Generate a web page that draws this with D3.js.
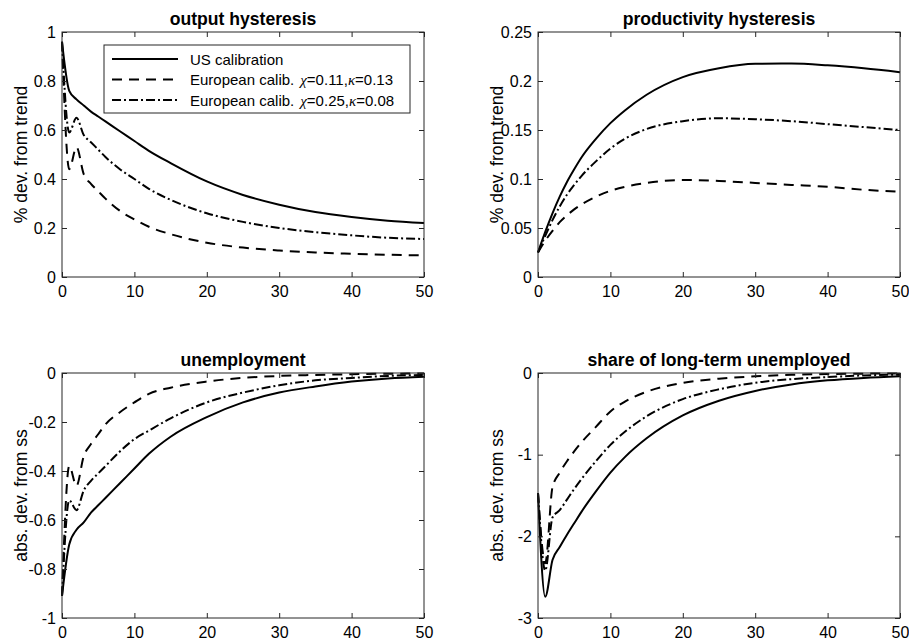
<!DOCTYPE html>
<html><head><meta charset="utf-8">
<script src="https://cdn.jsdelivr.net/npm/d3@7"></script>
<style>
html,body{margin:0;padding:0;background:#fff;}
svg{display:block;font-family:"Liberation Sans",Arial,Helvetica,sans-serif;}
</style></head>
<body><svg id="c" width="909" height="641"></svg>
<script>
// ---- data ----
const periods = [0,1,2,3,4,5,6,8,10,12,15,20,25,30,35,40,45,50];
const seriesNames = ["US calibration", "European calib.", "European calib."];
const legendParams = [null, ["0.11","0.13"], ["0.25","0.08"]];

const outputUS   = [0.96,0.76,0.725,0.70,0.675,0.655,0.635,0.595,0.555,0.515,0.465,0.39,0.335,0.295,0.265,0.245,0.23,0.22];
const outputEU1  = [0.96,0.44,0.53,0.42,0.38,0.35,0.32,0.27,0.235,0.205,0.175,0.14,0.12,0.108,0.10,0.095,0.091,0.088];
const outputEU2  = [0.96,0.59,0.65,0.58,0.55,0.52,0.49,0.44,0.40,0.36,0.315,0.26,0.225,0.20,0.183,0.17,0.16,0.155];

const prodUS  = [0.025,0.046,0.065,0.082,0.097,0.11,0.122,0.141,0.157,0.17,0.186,0.204,0.213,0.2175,0.2178,0.216,0.213,0.209];
const prodEU1 = [0.025,0.037,0.047,0.056,0.063,0.069,0.074,0.082,0.088,0.092,0.096,0.099,0.098,0.096,0.094,0.092,0.089,0.087];
const prodEU2 = [0.025,0.042,0.058,0.072,0.084,0.094,0.103,0.118,0.131,0.141,0.151,0.159,0.162,0.161,0.159,0.156,0.153,0.15];

const unempUS  = [-0.91,-0.70,-0.64,-0.61,-0.57,-0.54,-0.51,-0.45,-0.39,-0.33,-0.26,-0.18,-0.12,-0.08,-0.055,-0.035,-0.022,-0.015];
const unempEU1 = [-0.91,-0.38,-0.46,-0.34,-0.29,-0.25,-0.21,-0.16,-0.12,-0.085,-0.06,-0.035,-0.02,-0.012,-0.008,-0.005,-0.003,-0.002];
const unempEU2 = [-0.91,-0.52,-0.56,-0.48,-0.44,-0.41,-0.38,-0.32,-0.27,-0.235,-0.185,-0.12,-0.08,-0.05,-0.03,-0.02,-0.012,-0.008];

const ltuUS  = [-1.47,-2.74,-2.29,-2.13,-1.98,-1.84,-1.70,-1.45,-1.22,-1.03,-0.80,-0.52,-0.34,-0.22,-0.14,-0.09,-0.06,-0.04];
const ltuEU1 = [-1.47,-2.33,-1.40,-1.22,-1.08,-0.96,-0.85,-0.66,-0.47,-0.35,-0.23,-0.12,-0.07,-0.04,-0.022,-0.013,-0.008,-0.005];
const ltuEU2 = [-1.47,-2.42,-1.77,-1.68,-1.55,-1.42,-1.30,-1.08,-0.88,-0.72,-0.53,-0.32,-0.20,-0.12,-0.075,-0.05,-0.03,-0.02];

const xTicks = [0,10,20,30,40,50];
const titles = ["output hysteresis","productivity hysteresis","unemployment","share of long-term unemployed"];
const yLabels = ["% dev. from trend","% dev. from trend","abs. dev. from ss","abs. dev. from ss"];
const yDomains = [[0,1],[0,0.25],[-1,0],[-3,0]];
const yTicks = [[0,0.2,0.4,0.6,0.8,1],[0,0.05,0.1,0.15,0.2,0.25],[-1,-0.8,-0.6,-0.4,-0.2,0],[-3,-2,-1,0]];
const panelSeries = [[outputUS,outputEU1,outputEU2],[prodUS,prodEU1,prodEU2],[unempUS,unempEU1,unempEU2],[ltuUS,ltuEU1,ltuEU2]];

// ---- layout / style ----
const boxes = [
  {x:62, y:32, w:362, h:245},
  {x:538,y:32, w:362, h:245},
  {x:62, y:373,w:362, h:245},
  {x:538,y:373,w:362, h:245}
];
const dashes = [null, "10,7", "9,3,2,3"];
const axisColor = "#262626";
const svg = d3.select("#c");

function fmt(v){ return (Math.round(v*1000)/1000).toString(); }

boxes.forEach((b,i)=>{
  const g = svg.append("g").attr("transform",`translate(${b.x},${b.y})`);
  const x = d3.scaleLinear().domain([0,50]).range([0,b.w]);
  const y = d3.scaleLinear().domain(yDomains[i]).range([b.h,0]);

  // lines
  const line = d3.line().x((d,k)=>x(periods[k])).y(d=>y(d)).curve(d3.curveMonotoneX);
  panelSeries[i].forEach((s,k)=>{
    g.append("path").attr("d",line(s)).attr("fill","none").attr("stroke","#000")
      .attr("stroke-width",2).attr("stroke-dasharray",dashes[k]);
  });

  // axes with inward ticks on all sides
  const ax = (gen, tr)=> {
    const a = g.append("g").attr("transform",tr).call(gen);
    a.select(".domain").remove();
    a.selectAll("line").attr("stroke",axisColor);
    a.selectAll("text").attr("fill","#000").style("font-size","16px").style("font-family",'"Liberation Sans",Arial,sans-serif');
    return a;
  };
  ax(d3.axisBottom(x).tickValues(xTicks).tickSizeInner(-5).tickSizeOuter(0).tickPadding(9), `translate(0,${b.h})`);
  ax(d3.axisTop(x).tickValues(xTicks).tickSizeInner(-5).tickSizeOuter(0).tickFormat(""), `translate(0,0)`);
  ax(d3.axisLeft(y).tickValues(yTicks[i]).tickSizeInner(-5).tickSizeOuter(0).tickPadding(6).tickFormat(fmt), `translate(0,0)`);
  ax(d3.axisRight(y).tickValues(yTicks[i]).tickSizeInner(-5).tickSizeOuter(0).tickFormat(""), `translate(${b.w},0)`);

  g.append("rect").attr("x",0).attr("y",0).attr("width",b.w).attr("height",b.h)
    .attr("fill","none").attr("stroke",axisColor).attr("stroke-width",1);

  // title
  g.append("text").attr("x",b.w/2).attr("y",-7).attr("text-anchor","middle")
    .style("font-size","17.6px").style("font-weight","bold").text(titles[i]);
  // y label
  g.append("text").attr("transform",`translate(${-35},${b.h/2}) rotate(-90)`)
    .attr("text-anchor","middle").style("font-size","17.6px").text(yLabels[i]);

  // legend in first panel
  if(i===0){
    const lg = g.append("g").attr("transform","translate(42,13)");
    lg.append("rect").attr("width",306).attr("height",68).attr("fill","#fff")
      .attr("stroke",axisColor).attr("stroke-width",1);
    seriesNames.forEach((nm,k)=>{
      const yy = 14 + k*20.5;
      lg.append("line").attr("x1",8).attr("x2",74).attr("y1",yy).attr("y2",yy)
        .attr("stroke","#000").attr("stroke-width",2).attr("stroke-dasharray",dashes[k]);
      const t = lg.append("text").attr("x",86).attr("y",yy+5.5).style("font-size","15px");
      t.append("tspan").text(nm);
      if(legendParams[k]){
        t.append("tspan").attr("dx",6).style("font-family",'"Liberation Serif","Times New Roman",serif').style("font-style","italic").text("χ");
        t.append("tspan").text("=" + legendParams[k][0] + ",");
        t.append("tspan").style("font-family",'"Liberation Serif","Times New Roman",serif').style("font-style","italic").text("κ");
        t.append("tspan").text("=" + legendParams[k][1]);
      }
    });
  }
});
</script></body></html>
